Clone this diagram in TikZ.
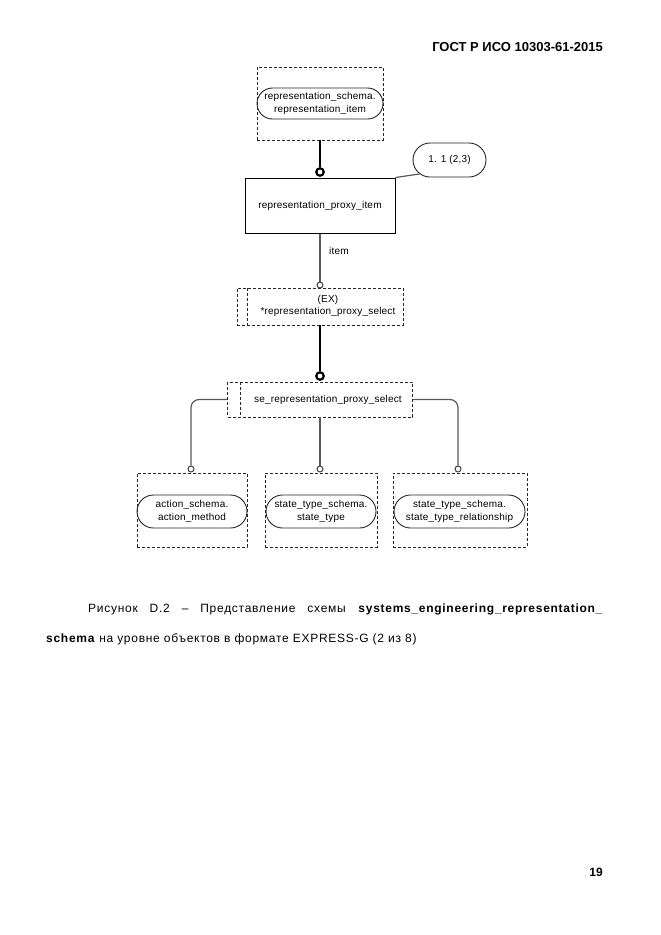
\documentclass[tikz,border=0pt]{standalone}
\usepackage{fontspec}
\setmainfont{Liberation Sans}
\usetikzlibrary{shapes.misc}
\newcommand{\dfont}{\fontsize{10}{12.5}\selectfont\addfontfeatures{LetterSpace=2}}
\newcommand{\capfont}{\fontsize{12}{14}\selectfont\addfontfeatures{LetterSpace=6}}
\begin{document}
\begin{tikzpicture}[x=1pt,y=-1pt,
  dbox/.style={rectangle, draw=black!85, dash pattern=on 3pt off 2pt, line width=0.9pt, inner sep=0pt},
  innerline/.style={draw=black!85, dash pattern=on 3pt off 2pt, line width=0.9pt},
  pill/.style={rounded rectangle, draw=black!85, line width=0.9pt, inner sep=0pt, align=center, font=\dfont},
  ent/.style={rectangle, draw=black, line width=1pt, inner sep=0pt, font=\dfont},
  lbl/.style={font=\dfont, inner sep=0pt, align=center},
  conn/.style={draw=black!65, line width=1.2pt},
  thickconn/.style={draw=black, line width=2.8pt},
  ring/.style={circle, draw=black!75, fill=white, line width=1pt, inner sep=0pt, minimum size=6pt},
  bigring/.style={circle, draw=black, fill=white, line width=2.2pt, inner sep=0pt, minimum size=7.5pt}
]
\useasboundingbox[fill=white] (0,0) rectangle (661,935);

% header
\node[anchor=base east, inner sep=0pt] (hdr) at (603,51) {\fontsize{13}{15}\selectfont\bfseries ГОСТ Р ИСО 10303-61-2015};

% top
\node[dbox, minimum width=126pt, minimum height=73pt] (topbox) at (320,103.5) {};
\node[pill, minimum width=126pt, minimum height=31pt] (toppill) at (320,103.5) {representation\_schema.\\representation\_item};
\node[bigring] (r1) at (320,172) {};
\node[ent, minimum width=150pt, minimum height=55pt] (rpi) at (320,205.5) {representation\_proxy\_item};
\node[pill, minimum width=73pt, minimum height=34pt] (note) at (449.5,160) {1. 1 (2,3)};
\node[ring] (r2) at (320,285) {};
\node[lbl, anchor=west] (item) at (329,251) {item};

% EX select
\node[dbox, minimum width=166pt, minimum height=37pt] (ex) at (320,306.5) {};
\node[lbl] (extext) at (328,306) {(EX)\\*representation\_proxy\_select};
\draw[innerline] ([xshift=11pt]ex.north west) -- ([xshift=11pt]ex.south west);
\node[bigring] (r3) at (320,376) {};

% se select
\node[dbox, minimum width=185pt, minimum height=35pt] (se) at (320,399.5) {};
\node[lbl] (setext) at (328,399.5) {se\_representation\_proxy\_select};
\draw[innerline] ([xshift=13pt]se.north west) -- ([xshift=13pt]se.south west);

% bottom
\node[ring] (c1) at (191,469) {};
\node[ring] (c2) at (320,469) {};
\node[ring] (c3) at (458,469) {};
\node[dbox, minimum width=110pt, minimum height=74pt] (b1) at (192,510) {};
\node[pill, minimum width=110pt, minimum height=33pt] (p1) at (192,511.5) {action\_schema.\\action\_method};
\node[dbox, minimum width=112pt, minimum height=74pt] (b2) at (321,510) {};
\node[pill, minimum width=110pt, minimum height=33pt] (p2) at (321,511.5) {state\_type\_schema.\\state\_type};
\node[dbox, minimum width=134pt, minimum height=74pt] (b3) at (460,510) {};
\node[pill, minimum width=131pt, minimum height=33pt] (p3) at (459.5,511.5) {state\_type\_schema.\\state\_type\_relationship};

% connectors
\draw[thickconn] (topbox.south) -- (r1.north);
\draw[conn] (rpi.north east) -- (note.205);
\draw[conn] (rpi.south) -- (r2.north);
\draw[thickconn] (ex.south) -- (r3.north);
\draw[conn, rounded corners=8pt] (se.west) -| (c1.north);
\draw[conn] (se.south) -- (c2.north);
\draw[conn, rounded corners=8pt] (se.east) -| (c3.north);

% caption
\node[anchor=base west, inner sep=0pt] (cap1) at (88,612) {\capfont\makebox[515pt][s]{Рисунок D.2 – Представление схемы \textbf{systems\_engineering\_representation\_}}};
\node[anchor=base west, inner sep=0pt] (cap2) at (46,642) {\capfont\textbf{schema} на уровне объектов в формате EXPRESS-G (2 из 8)};

% page number
\node[anchor=base east, inner sep=0pt] (pg) at (603,876) {\fontsize{12}{14}\selectfont\bfseries 19};
\end{tikzpicture}
\end{document}
